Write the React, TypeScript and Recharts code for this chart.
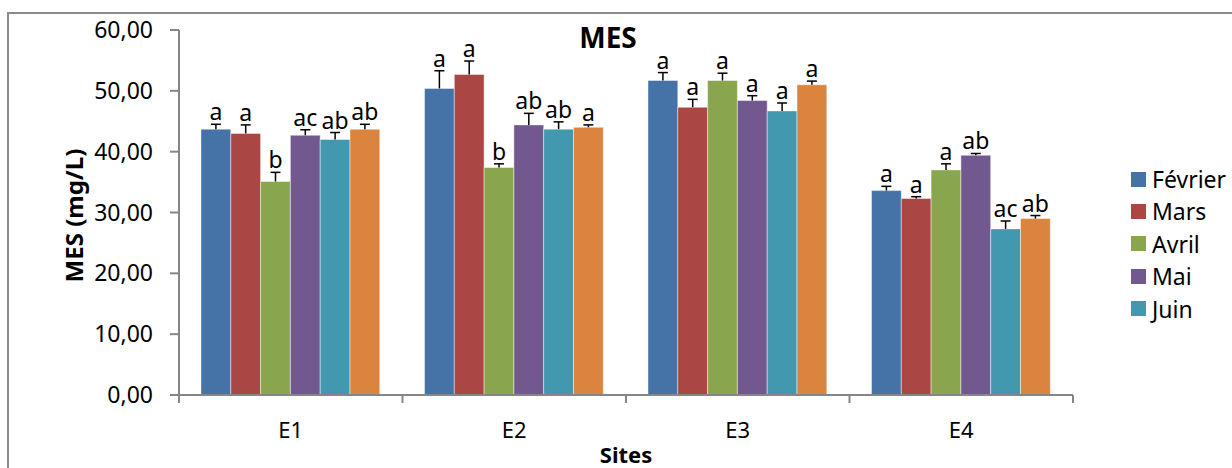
import React from 'react';
import { BarChart, Bar, XAxis, YAxis, ErrorBar, LabelList, Legend } from 'recharts';

// ---- data ----
const sites = ['E1', 'E2', 'E3', 'E4'];

const fevrier = [43.7, 50.4, 51.7, 33.6];
const mars = [43.0, 52.7, 47.3, 32.3];
const avril = [35.1, 37.4, 51.7, 37.0];
const mai = [42.7, 44.4, 48.4, 39.4];
const juin = [42.0, 43.7, 46.7, 27.3];
const juillet = [43.7, 44.0, 51.0, 29.0];

const fevrierErr = [0.8, 2.9, 1.3, 0.7];
const marsErr = [1.4, 2.2, 1.3, 0.3];
const avrilErr = [1.5, 0.6, 1.2, 1.0];
const maiErr = [0.9, 1.9, 0.8, 0.3];
const juinErr = [1.15, 1.2, 1.3, 1.3];
const juilletErr = [0.8, 0.4, 0.6, 0.5];

const fevrierLetters = ['a', 'a', 'a', 'a'];
const marsLetters = ['a', 'a', 'a', 'a'];
const avrilLetters = ['b', 'b', 'a', 'a'];
const maiLetters = ['ac', 'ab', 'a', 'ab'];
const juinLetters = ['ab', 'ab', 'a', 'ac'];
const juilletLetters = ['ab', 'a', 'a', 'ab'];

const yTicks = [0, 10, 20, 30, 40, 50, 60];

// ---- layout ----
const W = 1232;
const H = 468;
const MARGIN = { top: 30, right: 159, bottom: 0, left: 60 };
const YAXIS_W = 119;
const XAXIS_H = 73;
const PLOT_BOTTOM = H - MARGIN.bottom - XAXIS_H;
const PLOT_W = W - MARGIN.left - YAXIS_W - MARGIN.right;
const CAT_W = PLOT_W / sites.length;
const AXIS = '#868686';
const FONT = '"Noto Sans", "Open Sans", sans-serif';

const series = [
  { key: 'fevrier', name: 'Février', color: '#4572A7', values: fevrier, errors: fevrierErr, letters: fevrierLetters, legend: true },
  { key: 'mars', name: 'Mars', color: '#AA4643', values: mars, errors: marsErr, letters: marsLetters, legend: true },
  { key: 'avril', name: 'Avril', color: '#89A54E', values: avril, errors: avrilErr, letters: avrilLetters, legend: true },
  { key: 'mai', name: 'Mai', color: '#71588F', values: mai, errors: maiErr, letters: maiLetters, legend: true },
  { key: 'juin', name: 'Juin', color: '#4198AF', values: juin, errors: juinErr, letters: juinLetters, legend: true },
  { key: 'juillet', name: 'Juillet', color: '#DB843D', values: juillet, errors: juilletErr, letters: juilletLetters, legend: false },
];

const seriesOrder = series.map((s) => s.name);

const data = sites.map((site, i) => {
  const row: any = { site };
  series.forEach((s) => {
    row[s.key] = s.values[i];
    row[s.key + 'Err'] = [0, s.errors[i]];
    row[s.key + 'Letter'] = s.letters[i];
  });
  return row;
});

const makeLetter = (key: string) => (props: any) => {
  const { x, y, width, height, value, index } = props;
  const row = data[index];
  if (!row) return null;
  const v = row[key];
  const e = row[key + 'Err'][1];
  const errPx = (Number(height) * e) / v;
  return (
    <text
      x={Number(x) + Number(width) / 2}
      y={Number(y) - errPx - 4}
      textAnchor="middle"
      fontSize={23}
      fill="#000"
      fontFamily={FONT}
    >
      {value}
    </text>
  );
};

const CatTick = (props: any) => {
  const { x, payload, index } = props;
  const half = CAT_W / 2;
  return (
    <g>
      <line x1={x - half} x2={x - half} y1={PLOT_BOTTOM} y2={PLOT_BOTTOM + 8} stroke={AXIS} strokeWidth={2} />
      {index === sites.length - 1 && (
        <line x1={x + half} x2={x + half} y1={PLOT_BOTTOM} y2={PLOT_BOTTOM + 8} stroke={AXIS} strokeWidth={2} />
      )}
      <text x={x} y={PLOT_BOTTOM + 43} textAnchor="middle" fontSize={22} fill="#000" fontFamily={FONT}>
        {payload.value}
      </text>
    </g>
  );
};

const renderLegend = (props: any) => {
  const payload = (props.payload || [])
    .filter((p: any) => p.type !== 'none')
    .slice()
    .sort((a: any, b: any) => seriesOrder.indexOf(a.value) - seriesOrder.indexOf(b.value));
  return (
    <div style={{ fontFamily: FONT }}>
      {payload.map((p: any) => (
        <div key={p.value} style={{ display: 'flex', alignItems: 'center', height: 32.4 }}>
          <span style={{ display: 'inline-block', width: 15, height: 15, background: p.color, marginRight: 6 }} />
          <span style={{ fontSize: 23, color: '#000', lineHeight: '32.4px' }}>{p.value}</span>
        </div>
      ))}
    </div>
  );
};

export default function App() {
  return (
    <div style={{ position: 'absolute', left: 0, top: 0, width: W, height: H, overflow: 'hidden', fontFamily: FONT, background: '#fff' }}>
      <style>{'.recharts-errorBar line:nth-of-type(3){display:none}'}</style>
      <div style={{ position: 'absolute', left: 7, top: 12, width: W + 20, height: H + 20, border: '2px solid #8a8a8a', boxSizing: 'border-box' }} />
      <div
        style={{
          position: 'absolute', left: 0, top: 23.4, width: 1216, textAlign: 'center',
          fontSize: 28, lineHeight: '28px', fontWeight: 'bold', color: '#000', fontFamily: FONT,
        }}
      >
        MES
      </div>
      <BarChart width={W} height={H} data={data} margin={MARGIN} barGap={0} style={{ position: 'absolute', left: 0, top: 0 }}>
        <XAxis
          dataKey="site"
          height={XAXIS_H}
          axisLine={{ stroke: AXIS, strokeWidth: 2 }}
          tickLine={false}
          tick={<CatTick />}
          interval={0}
          label={{
            content: (p: any) => {
              const vb = p.viewBox || {};
              return (
                <text x={vb.x + vb.width / 2} y={vb.y + 68} textAnchor="middle" fontSize={22} fontWeight="bold" fill="#000" fontFamily={FONT}>
                  Sites
                </text>
              );
            },
          }}
        />
        <YAxis
          domain={[0, 60]}
          ticks={yTicks}
          width={YAXIS_W}
          tickSize={9}
          tickMargin={17}
          axisLine={{ stroke: AXIS, strokeWidth: 2 }}
          tickLine={{ stroke: AXIS, strokeWidth: 2 }}
          tick={{ fill: '#000', fontSize: 23, fontFamily: FONT }}
          tickFormatter={(v: number) => v.toFixed(2).replace('.', ',')}
          label={{
            content: (p: any) => {
              const vb = p.viewBox || {};
              const cx = vb.x + 13;
              const cy = vb.y + vb.height / 2 + 3;
              return (
                <text
                  x={cx}
                  y={cy}
                  transform={`rotate(-90 ${cx} ${cy})`}
                  textAnchor="middle"
                  dominantBaseline="central"
                  fontSize={24}
                  fontWeight="bold"
                  fill="#000"
                  fontFamily={FONT}
                >
                  MES (mg/L)
                </text>
              );
            },
          }}
        />
        <Legend
          layout="vertical"
          align="center"
          verticalAlign="middle"
          wrapperStyle={{ left: 1131, top: 163, width: 100 }}
          content={renderLegend}
        />
        {series.map((s) => (
          <Bar
            key={s.key}
            dataKey={s.key}
            name={s.name}
            fill={s.color}
            barSize={29.8}
            stroke="rgba(255,255,255,0.45)"
            strokeWidth={1}
            legendType={s.legend ? 'square' : 'none'}
            isAnimationActive={false}
          >
            <ErrorBar dataKey={s.key + 'Err'} width={5} stroke="#000" strokeWidth={1.5} direction="y" isAnimationActive={false} />
            <LabelList dataKey={s.key + 'Letter'} content={makeLetter(s.key)} />
          </Bar>
        ))}
      </BarChart>
    </div>
  );
}
